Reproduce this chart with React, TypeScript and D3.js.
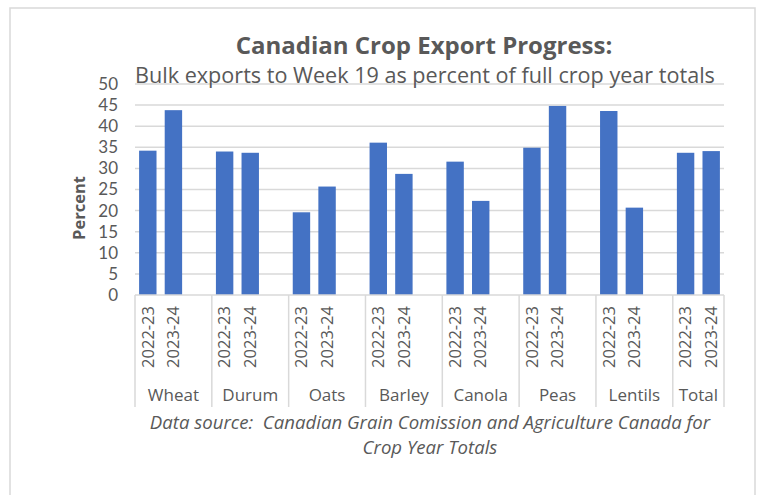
import React from 'react';
import * as d3 from 'd3';

const crops = ['Wheat', 'Durum', 'Oats', 'Barley', 'Canola', 'Peas', 'Lentils', 'Total'];
const years = ['2022-23', '2023-24'];
const values2022 = [34.2, 34.0, 19.6, 36.1, 31.6, 34.9, 43.6, 33.7];
const values2023 = [43.8, 33.7, 25.7, 28.7, 22.3, 44.8, 20.7, 34.1];
const yTicks = [0, 5, 10, 15, 20, 25, 30, 35, 40, 45, 50];

const title = 'Canadian Crop Export Progress:';
const subtitle = 'Bulk exports to Week 19 as percent of full crop year totals';
const sourceLines = [
  'Data source:  Canadian Grain Comission and Agriculture Canada for',
  'Crop Year Totals',
];

const W = 759;
const H = 495;
const margin = { left: 135, right: 35, top: 84, bottom: 200 };
const font = "'Open Sans', sans-serif";
const tickFont = "Lato, 'Open Sans', sans-serif";
const textColor = '#595959';
const gridColor = '#d9d9d9';
const barColor = '#4472C4';

// each crop gets its two years plus one blank slot, except the last group
const slots: { key: string; crop: string; year: string | null; value: number | null }[] = [];
crops.forEach((crop, i) => {
  slots.push({ key: `${crop}-0`, crop, year: years[0], value: values2022[i] });
  slots.push({ key: `${crop}-1`, crop, year: years[1], value: values2023[i] });
  if (i < crops.length - 1) slots.push({ key: `${crop}-2`, crop, year: null, value: null });
});

const App = () => {
  const x = d3
    .scaleBand()
    .domain(slots.map(s => s.key))
    .range([margin.left, W - margin.right])
    .paddingInner(0.32)
    .paddingOuter(0.16);

  const y = d3.scaleLinear().domain([0, 50]).range([H - margin.bottom, margin.top]);
  const y0 = y(0);
  const step = x.step();

  const groupEdges: number[] = [];
  const groupCenters: { crop: string; cx: number }[] = [];
  let idx = 0;
  crops.forEach((crop, i) => {
    const n = i < crops.length - 1 ? 3 : 2;
    const start = margin.left + idx * step;
    groupEdges.push(start);
    groupCenters.push({ crop, cx: start + (n * step) / 2 });
    idx += n;
    if (i === crops.length - 1) groupEdges.push(start + n * step);
  });

  const axisBottom = 407;

  return (
    <svg width={W} height={H} style={{ position: 'absolute', left: 0, top: 0, background: '#fff' }}>
      <rect x={10} y={8} width={745} height={H + 10} fill="#fff" stroke={gridColor} strokeWidth={1.5} />

      {yTicks.map(t => (
        <g key={t}>
          {t > 0 && (
            <line x1={margin.left} x2={W - margin.right} y1={y(t)} y2={y(t)} stroke={gridColor} strokeWidth={1.5} />
          )}
          <text x={118} y={y(t)} dy="0.35em" textAnchor="end" fontFamily={tickFont} fontSize={17} fill={textColor}>
            {t}
          </text>
        </g>
      ))}

      <text x={424} y={54} textAnchor="middle" fontFamily={font} fontSize={24} fontWeight="bold" fill={textColor}>
        {title}
      </text>
      <text x={425} y={83} textAnchor="middle" fontFamily={font} fontSize={21.6} fill={textColor}>
        {subtitle}
      </text>

      <text
        transform="translate(85, 208) rotate(-90)"
        textAnchor="middle"
        fontFamily={font}
        fontSize={16.5}
        fontWeight="bold"
        fill={textColor}
      >
        Percent
      </text>

      {slots
        .filter(s => s.value !== null)
        .map(s => (
          <rect
            key={s.key}
            x={x(s.key)}
            width={x.bandwidth()}
            y={y(s.value as number)}
            height={y0 - y(s.value as number)}
            fill={barColor}
          />
        ))}

      <line x1={margin.left} x2={W - margin.right} y1={y0} y2={y0} stroke={gridColor} strokeWidth={1.5} />
      {groupEdges.map((gx, i) => (
        <line key={i} x1={gx} x2={gx} y1={y0} y2={axisBottom} stroke={gridColor} strokeWidth={1.5} />
      ))}

      {slots
        .filter(s => s.year !== null)
        .map(s => (
          <text
            key={s.key}
            transform={`translate(${(x(s.key) as number) + x.bandwidth() / 2}, 306) rotate(-90)`}
            dy="0.35em"
            textAnchor="end"
            fontFamily={font}
            fontSize={16.5}
            fill={textColor}
          >
            {s.year}
          </text>
        ))}

      {groupCenters.map(g => (
        <text key={g.crop} x={g.cx} y={401} textAnchor="middle" fontFamily={font} fontSize={17} fill={textColor}>
          {g.crop}
        </text>
      ))}

      {sourceLines.map((line, i) => (
        <text
          key={i}
          x={430}
          y={429 + i * 25}
          textAnchor="middle"
          fontFamily={font}
          fontSize={18.6}
          fontStyle="italic"
          fill={textColor}
          style={{ whiteSpace: 'pre' }}
        >
          {line}
        </text>
      ))}
    </svg>
  );
};

export default App;
